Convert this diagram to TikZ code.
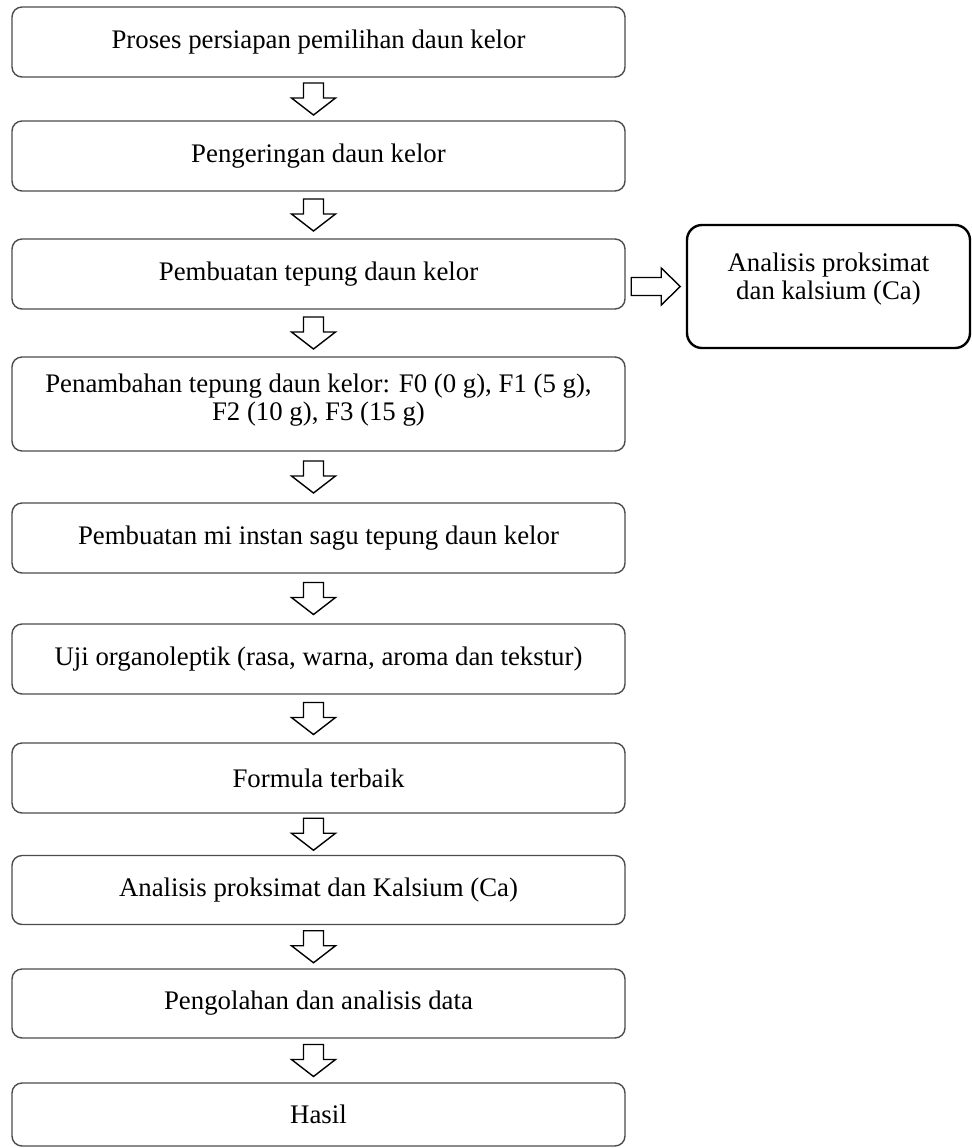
\documentclass[tikz,border=0pt]{standalone}
\usepackage{fontspec}
\setmainfont{Liberation Serif}
\usepackage{tikz}
\usetikzlibrary{calc}
\usetikzlibrary{positioning}

\begin{document}
\begin{tikzpicture}[x=0.5pt, y=-0.5pt,
    langkah/.style={draw=black!70, line width=.7pt, rounded corners=5pt,
      minimum width=306.5pt, minimum height=35pt, align=center,
      font=\fontsize{13.4}{14}\selectfont},
    panah/.style={draw=black, line width=.7pt, fill=white, line join=miter}]
    \useasboundingbox (0,0) rectangle (971,1148);

    \node[langkah] (proses) at (318.5,42) {Proses persiapan pemilihan daun kelor};
    \node[langkah] (kering) at (318.5,156) {Pengeringan daun kelor};
    \node[langkah] (tepung) at (318.5,274) {Pembuatan tepung daun kelor};
    \node[langkah, minimum height=47pt] (tambah) at (318.5,404)
      {\mbox{}\\[-9pt]Penambahan tepung daun kelor: F0 (0 g), F1 (5 g),\\ F2 (10 g), F3 (15 g)};
    \node[langkah] (mi) at (318.5,538) {Pembuatan mi instan sagu tepung daun kelor};
    \node[langkah] (uji) at (318.5,659) {Uji organoleptik (rasa, warna, aroma dan tekstur)};
    \node[langkah] (formula) at (318.5,778) {Formula terbaik};
    \node[langkah, minimum height=34.5pt] (analisis) at (318.5,890) {Analisis proksimat dan Kalsium (Ca)};
    \node[langkah, minimum height=34.5pt] (olah) at (318.5,1003.5) {Pengolahan dan analisis data};
    \node[langkah, minimum height=31.5pt] (hasil) at (318.5,1114.5) {Hasil};

    \node[langkah, draw=black, line width=1.2pt, rounded corners=7.5pt,
      minimum width=141.5pt, minimum height=61.5pt] (proksimat) at (828.5,286.5)
      {Analisis proksimat\\ dan kalsium (Ca)\\[-4pt]\mbox{}};

    % panah ke bawah
    \foreach \a/\b in {proses/kering, kering/tepung, tepung/tambah, tambah/mi,
      mi/uji, uji/formula, formula/analisis, analisis/olah, olah/hasil}{
      \coordinate (m) at ($(\a.south)!.5!(\b.north)+(-5,0)$);
      \draw[panah] ($(m)+(-10,-16)$) -- ++(20,0) -- ++(0,15) -- ++(12,0)
        -- ($(m)+(0,16)$) -- ++(-22,-17) -- ++(12,0) -- cycle;
    }

    % panah ke kanan
    \coordinate (r) at ($(tepung.east)!.5!(proksimat.west)$);
    \coordinate (rm) at (r |- proksimat.west);
    \draw[panah] ($(rm)+(-24.5,-9)$) -- ++(30,0) -- ++(0,-9.5) -- ++(19,18.5)
      -- ++(-19,18.5) -- ++(0,-9.5) -- ++(-30,0) -- cycle;
\end{tikzpicture}
\end{document}
